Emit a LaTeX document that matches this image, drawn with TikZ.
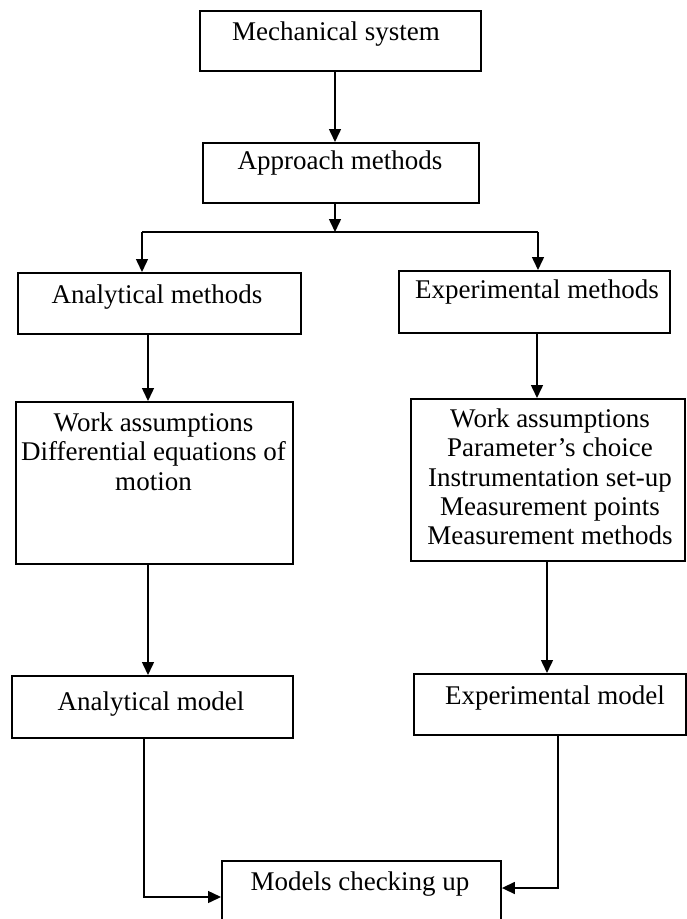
\documentclass[tikz,border=0pt]{standalone}
\usepackage{fontspec}
\setmainfont{Liberation Serif}
\usetikzlibrary{arrows.meta,calc}
\begin{document}
\begin{tikzpicture}[x=1pt,y=-1pt,
  box/.style={draw, line width=1.9pt, anchor=north west, inner sep=0pt},
  txt/.style={font=\fontsize{27}{29.3}\selectfont, inner sep=0pt, align=center},
  arr/.style={line width=1.5pt, -{Triangle[length=13pt,width=12pt]}},
  ln/.style={line width=1.5pt}]
\useasboundingbox (0,0) rectangle (686,919);
% boxes
\node[box, minimum width=281, minimum height=60] (mech) at (199,10) {};
\node[box, minimum width=276, minimum height=60] (appr) at (202,142) {};
\node[box, minimum width=283, minimum height=61] (anal) at (17,272) {};
\node[box, minimum width=271, minimum height=62] (expm) at (398,270) {};
\node[box, minimum width=277, minimum height=162] (lbig) at (15,401) {};
\node[box, minimum width=274, minimum height=162] (rbig) at (410,398) {};
\node[box, minimum width=281, minimum height=62] (amod) at (11,675) {};
\node[box, minimum width=272, minimum height=61] (emod) at (413,673) {};
\node[box, minimum width=279, minimum height=70] (chk) at (221,860) {};
% texts
\node[txt] (tmech) at (336,34) {Mechanical system};
\node[txt] (tappr) at (340,163) {Approach methods};
\node[txt] (tanal) at (157,297) {Analytical methods};
\node[txt] (texpm) at (537,292) {Experimental methods};
\node[txt, anchor=north] (tlbig) at (153.5,412.5) {Work assumptions\\Differential equations of\\motion};
\node[txt, anchor=north] (trbig) at (550,408.5) {Work assumptions\\Parameter’s choice\\Instrumentation set-up\\Measurement points\\Measurement methods};
\node[txt] (tamod) at (151,704) {Analytical model};
\node[txt] (temod) at (555,698) {Experimental model};
\node[txt] (tchk) at (360,884) {Models checking up};
% connector coordinates
\coordinate (mdrop) at (335,0);
\coordinate (split) at (335,232);
\coordinate (hl) at (142,232);
\coordinate (hr) at (538,232);
\coordinate (ldrop) at (148,0);
\coordinate (rdrop) at (537,0);
\coordinate (rdrop2) at (547,0);
\coordinate (lcorner) at (144,897);
\coordinate (rcorner) at (558,888);
% connectors
\draw[arr] (mech.south -| mdrop) -- (appr.north -| mdrop);
\draw[arr] (appr.south -| split) -- (split);
\draw[ln] (hl) -- (hr);
\draw[arr] (hl) -- (hl |- anal.north);
\draw[arr] (hr) -- (hr |- expm.north);
\draw[arr] (anal.south -| ldrop) -- (lbig.north -| ldrop);
\draw[arr] (expm.south -| rdrop) -- (rbig.north -| rdrop);
\draw[arr] (lbig.south -| ldrop) -- (amod.north -| ldrop);
\draw[arr] (rbig.south -| rdrop2) -- (emod.north -| rdrop2);
\draw[arr] (amod.south -| lcorner) -- (lcorner) -- (lcorner -| chk.west);
\draw[arr] (emod.south -| rcorner) -- (rcorner) -- (rcorner -| chk.east);
\end{tikzpicture}
\end{document}
